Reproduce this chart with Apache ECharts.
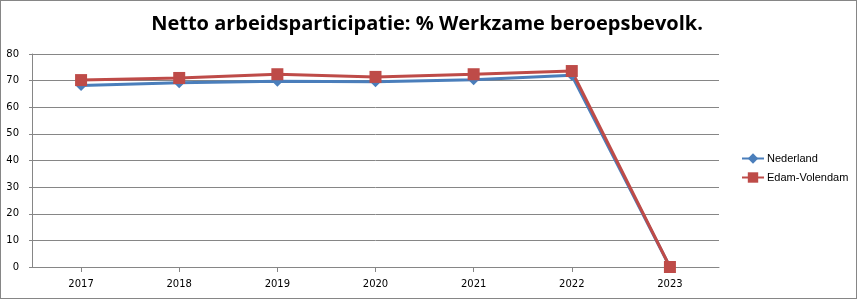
<!DOCTYPE html>
<html><head><meta charset="utf-8">
<script src="https://cdn.jsdelivr.net/npm/echarts@6/dist/echarts.min.js"></script>
<style>html,body{margin:0;padding:0;background:#fff}#c{width:857px;height:299px;box-sizing:border-box;border:1px solid #868686}</style>
</head><body><div id="c"></div>
<script>
const categories = ['2017','2018','2019','2020','2021','2022','2023'];
const nederland = [68.2, 69.2, 69.8, 69.6, 70.3, 72.0, 0];
const edamVolendam = [70.2, 71.0, 72.4, 71.4, 72.4, 73.6, 0];
const yTicks = {min: 0, max: 80, interval: 10};

const chart = echarts.init(document.getElementById('c'), null, {renderer: 'canvas'});
chart.setOption({
  animation: false,
  title: {
    text: 'Netto arbeidsparticipatie: % Werkzame beroepsbevolk.',
    left: 421, top: 8, textAlign: 'center',
    textStyle: {fontFamily: 'Open Sans', fontWeight: 'bold', fontSize: 20, color: '#000'}
  },
  grid: {left: 31, right: 137, top: 53, bottom: 31, containLabel: false},
  legend: {
    orient: 'vertical', left: 735, top: 147, itemGap: 8,
    itemWidth: 22, itemHeight: 13,
    textStyle: {fontFamily: 'Liberation Sans', fontSize: 11, color: '#000', padding: [0,0,0,-2]},
    data: ['Nederland', 'Edam-Volendam']
  },
  xAxis: {
    type: 'category', data: categories, boundaryGap: true,
    axisLine: {lineStyle: {color: '#868686', width: 1}},
    axisTick: {show: true, alignWithLabel: true, length: 5, lineStyle: {color: '#868686'}},
    axisLabel: {fontFamily: 'DejaVu Sans', fontSize: 10, color: '#000', margin: 12}
  },
  yAxis: {
    type: 'value', min: yTicks.min, max: yTicks.max, interval: yTicks.interval,
    axisLine: {show: true, lineStyle: {color: '#868686'}},
    axisTick: {show: true, length: 3, lineStyle: {color: '#868686'}},
    splitLine: {lineStyle: {color: '#868686', width: 1}},
    axisLabel: {fontFamily: 'DejaVu Sans', fontSize: 10, color: '#000', margin: 13}
  },
  series: [
    {
      name: 'Nederland', type: 'line', data: nederland,
      symbol: 'diamond', symbolSize: 11,
      lineStyle: {color: '#4a7ebb', width: 3},
      itemStyle: {color: '#4a7ebb'}
    },
    {
      name: 'Edam-Volendam', type: 'line', data: edamVolendam,
      symbol: 'rect', symbolSize: 12,
      lineStyle: {color: '#be4b48', width: 3},
      itemStyle: {color: '#be4b48'}
    }
  ]
});
</script></body></html>
